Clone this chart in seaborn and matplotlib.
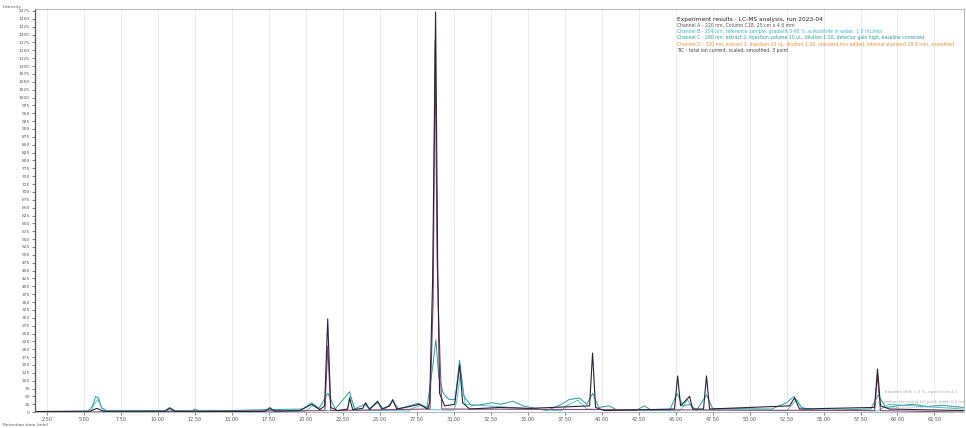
import numpy as np
import pandas as pd
import matplotlib.pyplot as plt
import seaborn as sns

# retention time (min) / intensity pairs
dark_time = [1.69, 5.41, 5.88, 6.35, 10.47, 10.81, 11.15, 17.23, 17.57, 17.91, 19.59, 20.41,
             20.95, 21.28, 21.49, 21.69, 22.16, 22.84, 22.97, 23.18, 23.85, 24.05, 24.32,
             24.86, 25.14, 25.68, 25.88, 26.15, 27.03, 27.70, 28.24, 28.38, 28.58, 28.78,
             28.92, 29.05, 29.39, 30.07, 30.41, 30.61, 31.08, 33.11, 35.14, 39.19, 39.39,
             39.59, 40.20, 44.93, 45.14, 45.34, 45.95, 46.15, 46.89, 47.09, 47.30, 52.70,
             53.04, 53.38, 58.45, 58.65, 58.85, 59.46, 64.46]
dark_int = [2, 3, 12, 3, 3, 12, 3, 2, 14, 3, 5, 25,
            8, 20, 296, 15, 5, 10, 45, 8, 12, 30, 8,
            35, 10, 20, 40, 10, 18, 25, 10, 30, 420, 1272,
            480, 60, 20, 25, 150, 30, 10, 15, 12, 20, 188,
            15, 5, 10, 115, 20, 50, 10, 10, 115, 10, 20,
            45, 10, 15, 137, 20, 10, 5]

purple_time = [1.69, 21.30, 21.49, 21.70, 28.40, 28.62, 28.75, 28.88, 29.00, 29.20, 58.45, 58.65, 58.85, 64.46]
purple_int = [0, 5, 210, 5, 10, 360, 1180, 490, 280, 10, 5, 120, 5, 0]

teal_time = [1.69, 5.30, 5.60, 5.80, 6.00, 6.20, 6.60, 10.50, 10.80, 11.20, 12.30, 12.50,
             12.80, 17.40, 19.80, 20.40, 20.90, 21.50, 22.00, 22.97, 23.30, 24.00, 24.30,
             24.90, 25.30, 25.90, 26.30, 27.00, 27.60, 28.20, 28.60, 28.80, 29.00, 29.30,
             29.70, 30.10, 30.40, 30.70, 31.20, 32.00, 32.60, 33.20, 34.00, 34.70, 35.50,
             36.30, 37.30, 37.80, 38.50, 39.00, 39.40, 39.80, 40.50, 41.00, 42.30, 42.90,
             43.40, 44.60, 45.10, 45.50, 46.00, 46.40, 47.10, 47.50, 51.50, 52.50, 53.00,
             53.50, 54.50, 58.20, 58.70, 59.20, 60.00, 61.00, 62.00, 63.00, 64.46]
teal_int = [2, 3, 20, 50, 45, 15, 3, 4, 15, 4, 3, 10,
            3, 8, 10, 30, 12, 60, 10, 65, 10, 25, 12,
            30, 8, 35, 10, 20, 28, 15, 150, 230, 110, 60,
            40, 40, 165, 50, 20, 25, 30, 25, 35, 20, 12,
            5, 25, 40, 45, 25, 60, 15, 20, 8, 5, 20,
            5, 6, 60, 20, 25, 5, 55, 12, 10, 30, 50,
            15, 5, 10, 55, 15, 20, 25, 18, 22, 15]

cyan_time = [1.69, 5.50, 5.70, 5.95, 6.30, 19.90, 20.10, 20.50, 21.00, 22.80, 23.00, 23.40,
             27.00, 27.20, 27.80, 28.30, 30.00, 30.20, 30.45, 30.80, 37.30, 37.60, 38.40,
             39.00, 45.20, 45.40, 45.80, 46.20, 52.50, 52.80, 53.20, 53.60, 58.70, 58.90,
             59.40, 64.46]
cyan_int = [1, 2, 25, 40, 5, 3, 6, 22, 6, 4, 50, 6,
            4, 12, 22, 8, 6, 30, 120, 25, 4, 20, 38,
            10, 4, 10, 40, 8, 4, 20, 40, 8, 4, 10,
            25, 10]

gray_time = [59.46, 60.50, 61.50, 62.50, 63.50, 64.46]
gray_int = [14, 16, 15, 17, 15, 16]

x_ticks = np.arange(2.5, 63.0, 2.5)
y_ticks = np.arange(0, 1276, 25)

legend_lines = [
    ("Experiment results - LC-MS analysis, run 2023-04", "#222222"),
    ("Channel A - 220 nm, Column C18, 25 cm x 4.6 mm", "#555555"),
    ("Channel B - 254 nm, reference sample, gradient 5-95 % acetonitrile in water, 1.0 mL/min", "#37b9c9"),
    ("Channel C - 280 nm, extract 2, injection volume 10 uL, dilution 1:10, detector gain high, baseline corrected", "#2a9c9c"),
    ("Channel D - 320 nm, extract 3, injection 10 uL, dilution 1:20, standard mix added, internal standard 28.8 min, smoothed", "#e8913c"),
    ("TIC - total ion current, scaled, smoothed, 3 point", "#444444"),
]

sns.set_style("whitegrid")
plt.rcParams["font.family"] = ["DejaVu Sans"]

fig = plt.figure(figsize=(9.66, 4.28), dpi=100)
ax = fig.add_axes([0.036, 0.037, 0.962, 0.941])

sns.lineplot(x=teal_time, y=teal_int, ax=ax, color="#2a9c9c", lw=0.7, estimator=None, sort=False)
sns.lineplot(x=cyan_time, y=cyan_int, ax=ax, color="#37b9c9", lw=0.6, estimator=None, sort=False)
sns.lineplot(x=purple_time, y=purple_int, ax=ax, color="#8a4a7a", lw=0.8, estimator=None, sort=False)
sns.lineplot(x=dark_time, y=dark_int, ax=ax, color="#2b2233", lw=0.8, estimator=None, sort=False)
sns.lineplot(x=gray_time, y=gray_int, ax=ax, color="#999999", lw=0.6, linestyle=":", estimator=None, sort=False)

ax.set_xlim(1.69, 64.5)
ax.set_ylim(0, 1280)
ax.set_xticks(x_ticks)
ax.set_xticklabels([f"{v:.2f}" for v in x_ticks], fontsize=3.5, color="#555555")
ax.set_yticks(y_ticks)
ax.set_yticklabels([f"{v:d}" for v in y_ticks], fontsize=3.2, color="#555555")
ax.tick_params(axis="both", length=2, width=0.4, pad=1.5, left=True, bottom=True)
ax.grid(True, color="#e4e4e4", lw=0.5)
ax.grid(False, axis="y")
for s in ax.spines.values():
    s.set_color("#aaaaaa")
    s.set_linewidth(0.6)
ax.spines["left"].set_color("#555555")
ax.spines["left"].set_linewidth(0.9)
ax.set_xlabel("")
ax.set_ylabel("")

fig.text(0.003, 0.988, "Intensity", fontsize=3.2, color="#555555", va="top")
fig.text(0.003, 0.002, "Retention time (min)", fontsize=3.2, color="#555555", va="bottom")

for i, (txt, col) in enumerate(legend_lines):
    fs = 4.2 if i == 0 else 3.3
    fig.text(0.701, 0.955 - i * 0.0145, txt, fontsize=fs, color=col, va="center")

ax.text(61.6, 60, "baseline drift < 2 %, noise level 4.1", fontsize=3.0, color="#aaaaaa", ha="center")
ax.text(61.6, 28, "integration threshold 10, peak width 0.2 min", fontsize=3.0, color="#aaaaaa", ha="center")

fig.savefig("out.png", dpi=100)
